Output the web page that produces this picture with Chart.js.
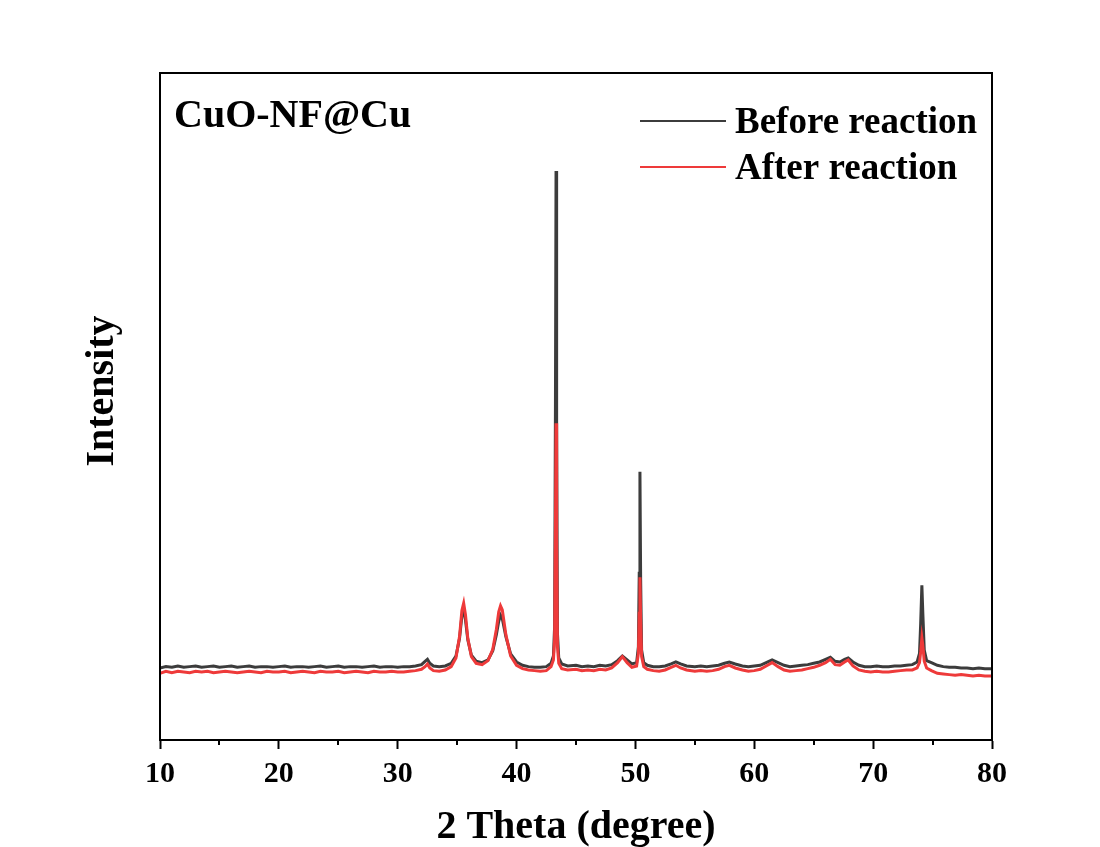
<!DOCTYPE html>
<html>
<head>
<meta charset="utf-8">
<script src="https://cdn.jsdelivr.net/npm/chart.js@4/dist/chart.umd.min.js"></script>
<style>
  html, body { margin: 0; padding: 0; background: #fff; overflow: hidden; }
  #wrap { width: 1100px; height: 860px; }
</style>
</head>
<body>
<div id="wrap"><canvas id="plot" width="1100" height="860"></canvas></div>
<script>
const twoTheta = [
  10.0, 10.5, 11.0, 11.5, 12.0, 12.5, 13.0, 13.5, 14.0, 14.5, 15.0, 15.5, 16.0, 16.5, 17.0, 17.5,
  18.0, 18.5, 19.0, 19.5, 20.0, 20.5, 21.0, 21.5, 22.0, 22.5, 23.0, 23.5, 24.0, 24.5, 25.0, 25.5,
  26.0, 26.5, 27.0, 27.5, 28.0, 28.5, 29.0, 29.5, 30.0, 30.5, 31.0, 31.5, 32.0, 32.3, 32.5, 32.7,
  33.0, 33.5, 34.0, 34.5, 34.9, 35.2, 35.4, 35.55, 35.7, 35.9, 36.2, 36.6, 37.1, 37.6, 38.0, 38.3,
  38.5, 38.65, 38.8, 39.1, 39.5, 40.0, 40.5, 41.0, 41.5, 42.0, 42.5, 42.9, 43.1, 43.2, 43.27, 43.32,
  43.37, 43.44, 43.55, 43.8, 44.3, 45.0, 45.5, 46.0, 46.5, 47.0, 47.5, 48.0, 48.5, 48.9, 49.3, 49.7,
  50.1, 50.25, 50.32, 50.38, 50.44, 50.52, 50.7, 51.0, 51.5, 52.0, 52.5, 53.0, 53.4, 53.8, 54.3, 55.0,
  55.5, 56.0, 56.5, 57.0, 57.5, 57.9, 58.4, 59.0, 59.5, 60.0, 60.5, 61.0, 61.5, 62.0, 62.5, 63.0,
  63.5, 64.0, 64.5, 65.0, 65.5, 66.0, 66.4, 66.8, 67.2, 67.6, 67.9, 68.3, 68.8, 69.3, 69.8, 70.3,
  70.8, 71.3, 71.8, 72.3, 72.8, 73.3, 73.7, 73.9, 74.0, 74.1, 74.18, 74.3, 74.5, 74.9, 75.4, 75.9,
  76.4, 76.9, 77.4, 77.9, 78.4, 78.9, 79.4, 80.0
];

const beforeReaction = [
  10.8, 11.0, 10.9, 11.1, 10.9, 11.0, 11.1, 10.9, 11.0, 11.1, 10.9, 11.0, 11.1, 10.9, 11.0, 11.1,
  10.9, 11.0, 11.0, 10.9, 11.0, 11.1, 10.9, 11.0, 11.0, 10.9, 11.0, 11.1, 10.9, 11.0, 11.1, 10.9,
  11.0, 11.0, 10.9, 11.0, 11.1, 10.9, 11.0, 11.0, 10.9, 11.0, 11.0, 11.1, 11.3, 11.8, 12.1, 11.5,
  11.1, 11.0, 11.1, 11.5, 12.6, 15.2, 18.6, 19.6, 18.0, 15.0, 12.7, 11.8, 11.6, 12.0, 13.4, 15.8,
  17.8, 18.7, 18.2, 15.5, 12.9, 11.7, 11.2, 11.0, 10.9, 10.9, 11.0, 11.5, 12.6, 17.0, 50.0, 85.3,
  48.0, 16.0, 12.3, 11.4, 11.1, 11.2, 11.0, 11.1, 11.0, 11.2, 11.1, 11.3, 11.9, 12.6, 12.0, 11.4,
  11.6, 14.0, 25.0, 40.2, 24.0, 13.5, 11.6, 11.2, 11.0, 11.0, 11.1, 11.4, 11.7, 11.4, 11.1, 11.0,
  11.1, 11.0, 11.1, 11.2, 11.5, 11.7, 11.4, 11.1, 11.0, 11.1, 11.2, 11.6, 12.0, 11.6, 11.2, 11.0,
  11.1, 11.2, 11.3, 11.5, 11.7, 12.1, 12.4, 11.8, 11.7, 12.1, 12.3, 11.7, 11.2, 11.0, 11.0, 11.1,
  11.0, 11.0, 11.1, 11.1, 11.2, 11.3, 11.7, 13.0, 17.5, 23.2, 19.0, 13.5, 11.9, 11.6, 11.2, 11.0,
  10.9, 10.9, 10.8, 10.8, 10.7, 10.8, 10.7, 10.7
];

const afterReaction = [
  10.0, 10.3, 10.1, 10.3, 10.2, 10.1, 10.3, 10.2, 10.3, 10.1, 10.2, 10.3, 10.2, 10.1, 10.2, 10.3,
  10.2, 10.1, 10.3, 10.2, 10.2, 10.3, 10.1, 10.2, 10.3, 10.2, 10.1, 10.3, 10.2, 10.2, 10.3, 10.1,
  10.2, 10.3, 10.2, 10.1, 10.3, 10.2, 10.2, 10.3, 10.2, 10.2, 10.3, 10.4, 10.6, 11.0, 11.4, 10.8,
  10.4, 10.3, 10.5, 11.0, 12.3, 15.5, 19.4, 20.5, 18.8, 15.2, 12.5, 11.5, 11.3, 11.9, 13.6, 16.6,
  19.2, 20.1, 19.5, 15.8, 12.6, 11.2, 10.7, 10.5, 10.4, 10.3, 10.4, 11.0, 12.0, 15.0, 32.0, 47.5,
  30.0, 14.0, 11.5, 10.7, 10.5, 10.6, 10.4, 10.5, 10.4, 10.6, 10.5, 10.8, 11.6, 12.5, 11.6, 10.9,
  11.1, 13.0, 19.0, 24.4, 18.0, 12.5, 11.0, 10.6, 10.4, 10.3, 10.5, 10.9, 11.2, 10.8, 10.5, 10.3,
  10.4, 10.3, 10.4, 10.6, 11.0, 11.2, 10.8, 10.5, 10.3, 10.4, 10.6, 11.1, 11.6, 11.0, 10.5, 10.3,
  10.4, 10.5, 10.7, 10.9, 11.2, 11.6, 12.1, 11.3, 11.2, 11.7, 12.0, 11.1, 10.5, 10.3, 10.2, 10.3,
  10.2, 10.2, 10.3, 10.4, 10.5, 10.5, 10.8, 11.6, 13.2, 15.3, 14.2, 11.8, 10.8, 10.4, 10.0, 9.9,
  9.8, 9.7, 9.8, 9.7, 9.6, 9.7, 9.6, 9.6
];

const xTicksMinor = [15, 25, 35, 45, 55, 65, 75];

const sampleName = 'CuO-NF@Cu';
const yTitle = 'Intensity';
const seriesNames = ['Before reaction', 'After reaction'];
const seriesColors = ['#3c3c3c', '#ee3a3a'];

function toPoints(xs, ys) {
  return xs.map(function(x, i) {
    return { x: x, y: ys[i] };
  });
}

const serif = "'Liberation Serif', 'Times New Roman', serif";

const framePlugin = {
  id: 'frame_and_labels',
  afterDraw: (chart) => {
    const ctx = chart.ctx;
    const a = chart.chartArea;
    const xs = chart.scales.x;
    ctx.save();
    // box round the plot
    ctx.strokeStyle = '#000';
    ctx.lineWidth = 2;
    ctx.strokeRect(a.left, a.top, a.right - a.left, a.bottom - a.top);
    // minor ticks
    xTicksMinor.forEach(function(v) {
      const px = Math.round(xs.getPixelForValue(v));
      ctx.beginPath();
      ctx.moveTo(px, a.bottom);
      ctx.lineTo(px, a.bottom + 5);
      ctx.stroke();
    });
    // y title
    ctx.fillStyle = '#000';
    ctx.font = 'bold 40px ' + serif;
    ctx.textBaseline = 'alphabetic';
    ctx.save();
    ctx.translate(113, 391);
    ctx.rotate(-Math.PI / 2);
    ctx.textAlign = 'center';
    ctx.fillText(yTitle, 0, 0);
    ctx.restore();
    // sample name
    ctx.textAlign = 'left';
    ctx.fillText(sampleName, 174, 127);
    // legend
    ctx.font = 'bold 37px ' + serif;
    const rows = [121, 167];
    seriesNames.forEach(function(name, i) {
      ctx.strokeStyle = seriesColors[i];
      ctx.lineWidth = 2;
      ctx.beginPath();
      ctx.moveTo(640, rows[i]);
      ctx.lineTo(726, rows[i]);
      ctx.stroke();
      ctx.fillStyle = '#000';
      ctx.fillText(name, 735, rows[i] + 12);
    });
    ctx.restore();
  }
};

const xrdChart = {
  type: 'line',
  plugins: [framePlugin],
  data: {
    datasets: [
      {
        label: seriesNames[0],
        data: toPoints(twoTheta, beforeReaction),
        borderColor: seriesColors[0],
        backgroundColor: seriesColors[0],
        borderWidth: 3,
        pointRadius: 0,
        tension: 0,
        order: 2
      },
      {
        label: seriesNames[1],
        data: toPoints(twoTheta, afterReaction),
        borderColor: seriesColors[1],
        backgroundColor: seriesColors[1],
        borderWidth: 3,
        pointRadius: 0,
        tension: 0,
        order: 1
      }
    ]
  },
  options: {
    responsive: false,
    animation: false,
    devicePixelRatio: 1,
    layout: {
      padding: { left: 160, right: 108, top: 73, bottom: 0 }
    },
    plugins: {
      legend: { display: false },
      tooltip: { enabled: false }
    },
    scales: {
      x: {
        type: 'linear',
        min: 10,
        max: 80,
        ticks: {
          stepSize: 10,
          padding: 7,
          color: '#000',
          font: { family: serif, size: 30, weight: 'bold' }
        },
        grid: {
          drawOnChartArea: false,
          drawTicks: true,
          tickLength: 9,
          tickWidth: 2,
          tickColor: '#000'
        },
        border: { display: true, color: '#000', width: 2 },
        title: {
          display: true,
          text: '2 Theta (degree)',
          color: '#000',
          font: { family: serif, size: 40, weight: 'bold' },
          padding: { top: 5, bottom: 8 }
        }
      },
      y: {
        type: 'linear',
        min: 0,
        max: 100,
        ticks: { display: false },
        grid: { drawOnChartArea: false, drawTicks: false },
        border: { display: true, color: '#000', width: 2 },
        title: { display: false }
      }
    }
  }
};

const canvas = document.getElementById('plot');
const ctx = canvas.getContext('2d');
const chart = new Chart(ctx, xrdChart);
</script>
</body>
</html>
